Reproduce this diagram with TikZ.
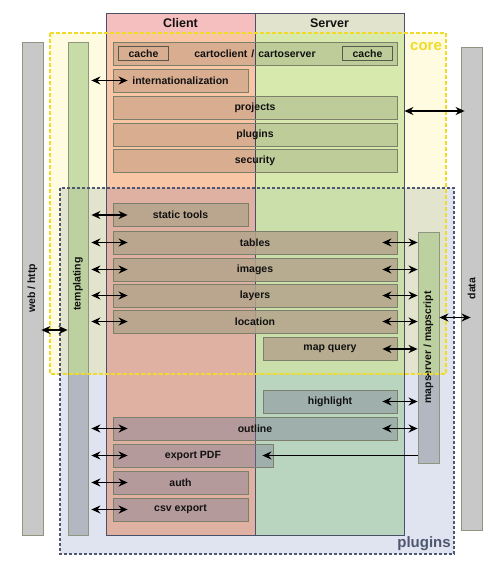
\documentclass[tikz,border=0pt]{standalone}
\usepackage{fontspec}
\setmainfont{Liberation Sans}
\usetikzlibrary{positioning, arrows.meta, calc}

\definecolor{clienthead}{HTML}{F6BFBF}
\definecolor{clientcore}{HTML}{F8C5A5}
\definecolor{clientplug}{HTML}{DEB1A3}
\definecolor{serverhead}{HTML}{E1E3CC}
\definecolor{servercore}{HTML}{D8E9AE}
\definecolor{servermix}{HTML}{CBDFAB}
\definecolor{serverplug}{HTML}{BAD5BF}
\definecolor{corefill}{HTML}{FEFBE0}
\definecolor{plugfill}{HTML}{E0E4F0}
\definecolor{mixfill}{HTML}{E2E4CD}
\definecolor{coreline}{HTML}{F0DC28}
\definecolor{plugline}{HTML}{4F5670}
\definecolor{colline}{HTML}{4A5068}
\definecolor{barline}{HTML}{8F9680}
\definecolor{bargreen}{HTML}{C8DCA8}
\definecolor{barmix}{HTML}{BDD0A0}
\definecolor{bargrey}{HTML}{B2B7C2}
\definecolor{sidegrey}{HTML}{C8C8C8}
\definecolor{boxline}{HTML}{7C806A}
\definecolor{toolfill}{HTML}{B4A48C}
\definecolor{extfill}{HTML}{787890}
\definecolor{labeltext}{HTML}{111111}

\begin{document}
\begin{tikzpicture}[x=1pt, y=-1pt,
    every node/.style={font=\bfseries\fontsize{10.5}{12}\selectfont, text=labeltext},
    arrow/.style={{Stealth[length=9pt, width=8pt]}-{Stealth[length=9pt, width=8pt]}, line width=1.4pt},
    onearrow/.style={-{Stealth[length=9pt, width=8pt]}, line width=1.4pt},
    unitbox/.style={draw=boxline, line width=0.8pt, minimum height=23pt, inner sep=0pt},
    corebox/.style={unitbox, fill=black, fill opacity=0.12, text opacity=1},
    toolbox/.style={unitbox, fill=toolfill, fill opacity=0.85, text opacity=1},
    extbox/.style={unitbox, fill=extfill, fill opacity=0.4, text opacity=1},
    cachebox/.style={draw=boxline!70!black, line width=1pt, minimum width=50pt, minimum height=14pt, inner sep=0pt},
    sidebar/.style={draw=barline, line width=0.8pt, minimum width=20pt, inner sep=0pt},
    column/.style={draw=colline, line width=0.8pt, minimum width=149pt, minimum height=522pt, inner sep=0pt},
    coreframe/.style={draw=coreline, line width=1.4pt, dash pattern=on 4pt off 2pt},
    plugframe/.style={draw=plugline, line width=1.1pt, dash pattern=on 3pt off 2pt}
]
    \useasboundingbox (0,0) rectangle (500,572);

    % Regions
    \fill[plugfill] (60,188) rectangle (454,554);
    \fill[corefill] (50,33) rectangle (446,374);
    \fill[mixfill] (60,188) rectangle (446,374);

    % Client and server columns
    \fill[clienthead] (106,13) rectangle (255,33);
    \fill[clientcore] (106,33) rectangle (255,188);
    \fill[clientplug] (106,188) rectangle (255,535);
    \fill[serverhead] (255,13) rectangle (404,33);
    \fill[servercore] (255,33) rectangle (404,188);
    \fill[servermix] (255,188) rectangle (404,374);
    \fill[serverplug] (255,374) rectangle (404,535);
    \node[column] (client) at (180.5,274) {};
    \node[column] (server) at (329.5,274) {};
    \node[font=\bfseries\fontsize{12.5}{14}\selectfont] (clienttitle) at (180.5,23) {Client};
    \node[font=\bfseries\fontsize{12.5}{14}\selectfont] (servertitle) at (329.5,23) {Server};

    % Side bars
    \node[sidebar, minimum width=21pt, minimum height=493pt, fill=sidegrey] (web) at (32.5,288.5) {};
    \node[rotate=90] (webtext) at (web) {web / http};
    \node[sidebar, minimum width=21pt, minimum height=483pt, fill=sidegrey] (data) at (471.5,288.5) {};
    \node[rotate=90] (datatext) at (data) {data};

    \fill[bargreen] (68,42) rectangle (88,188);
    \fill[barmix] (68,188) rectangle (88,374);
    \fill[bargrey] (68,374) rectangle (88,535);
    \node[sidebar, minimum height=493pt] (templating) at (78,288.5) {};
    \node[rotate=90] (templatingtext) at (78,284) {templating};

    \fill[barmix] (418,232) rectangle (439,374);
    \fill[bargrey] (418,374) rectangle (439,463);
    \node[sidebar, minimum width=21pt, minimum height=231pt] (mapserver) at (428.5,347.5) {};
    \node[rotate=90] (mapservertext) at (mapserver) {mapserver / mapscript};

    % Region frames
    \draw[coreframe] (50,33) rectangle (446,374);
    \draw[plugframe] (60,188) rectangle (454,554);
    \node[text=coreline, font=\bfseries\fontsize{15}{16}\selectfont] (corelabel) at (426,47) {core};
    \node[text=plugline, font=\bfseries\fontsize{15}{16}\selectfont] (pluginslabel) at (424,544) {plugins};

    % Core boxes
    \node[corebox, minimum width=284pt] (carto) at (255,53.5) {cartoclient\hspace{4pt}/\hspace{4pt}cartoserver};
    \node[cachebox] (cacheclient) at (143.5,54) {cache};
    \node[cachebox] (cacheserver) at (367.5,54) {cache};
    \node[corebox, minimum width=135pt] (i18n) at (180.5,80.5) {internationalization};
    \node[corebox, minimum width=284pt] (projects) at (255,107.5) {projects};
    \node[corebox, minimum width=284pt] (pluginsbox) at (255,134.5) {plugins};
    \node[corebox, minimum width=284pt] (security) at (255,160.5) {security};

    % Plugin boxes
    \node[toolbox, minimum width=135pt] (statictools) at (180.5,215) {static tools};
    \node[toolbox, minimum width=284pt] (tables) at (255,242.5) {tables};
    \node[toolbox, minimum width=284pt] (images) at (255,269.5) {images};
    \node[toolbox, minimum width=284pt] (layers) at (255,295.5) {layers};
    \node[toolbox, minimum width=284pt] (location) at (255,321.5) {location};
    \node[toolbox, minimum width=134pt] (mapquery) at (330,349) {map query};
    \node[extbox, minimum width=134pt] (highlight) at (330,401.5) {highlight};
    \node[extbox, minimum width=284pt] (outline) at (255,428.5) {outline};
    \node[extbox, minimum width=160pt] (exportpdf) at (193,455.5) {export PDF};
    \node[extbox, minimum width=135pt] (auth) at (180.5,482.5) {auth};
    \node[extbox, minimum width=135pt] (csvexport) at (180.5,509.5) {csv export};

    % Arrows
    \foreach \b in {i18n, statictools, tables, images, layers, location, outline, exportpdf, auth, csvexport}
        \draw[arrow] ($(templating.east |- \b.west)+(3,0)$) -- ($(\b.west)+(15,0)$);
    \foreach \b in {tables, images, layers, location, mapquery, highlight, outline}
        \draw[arrow] ($(\b.east)+(-15,0)$) -- (mapserver.west |- \b.east);
    \draw[onearrow] (mapserver.west |- exportpdf.east) -- ($(exportpdf.east)+(-11,0)$);
    \draw[arrow] ($(web.east)+(-2,41.5)$) coordinate (weblink) -- (templating.west |- weblink);
    \draw[arrow] ($(mapserver.east)+(0,-30)$) coordinate (datalink) -- ($(data.west |- datalink)+(10,0)$);
    \draw[arrow] ($(server.east |- projects.east)+(0,3.5)$) coordinate (corelink) -- ($(data.west |- corelink)+(4,0)$);
\end{tikzpicture}
\end{document}
